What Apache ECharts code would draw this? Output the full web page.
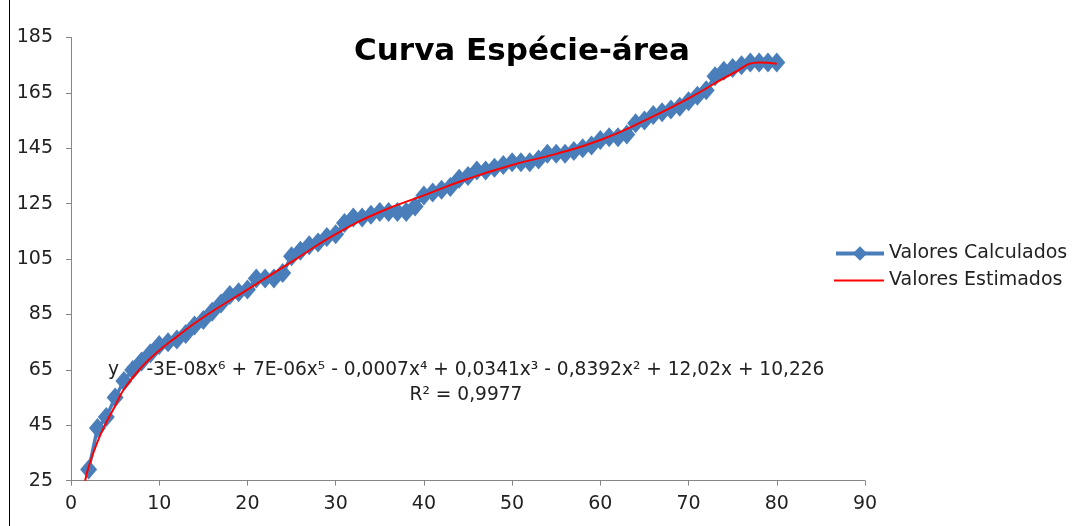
<!DOCTYPE html>
<html><head><meta charset="utf-8">
<script src="https://cdn.jsdelivr.net/npm/echarts@6/dist/echarts.min.js"></script>
<style>html,body{margin:0;padding:0;background:#fff}#c{width:1082px;height:526px}</style>
</head><body><div id="c"></div>
<script>
const calcX = [2,3,4,5,6,7,8,9,10,11,12,13,14,15,16,17,18,19,20,21,22,23,24,25,26,27,28,29,30,31,32,33,34,35,36,37,38,39,40,41,42,43,44,45,46,47,48,49,50,51,52,53,54,55,56,57,58,59,60,61,62,63,64,65,66,67,68,69,70,71,72,73,74,75,76,77,78,79,80];
const calcY = [29,44,48,55,61,65,68,71,74,75,76,78,81,83,86,89,92,93,94,98,98,98,100,106,108,110,111,113,114,118,120,120,121,122,122,122,122,124,128,129,130,131,134,135,137,137,138,139,140,140,140,141,143,143,143,144,145,146,148,149,149,150,154,155,157,158,159,160,162,164,166,171,173,174,175,176,176,176,176];
const estX = [1.6,2,3,4,5,6,8,10,12,15,20,25,30,35,40,45,50,55,60,65,70,75,78,80];
const estY = [25,30,39,46,52,58,66,72,77,84,94,104,114,122,128,134,139,143,148,155,163,172,176,175.5];
const xTicks = {min:0,max:90,interval:10};
const yTicks = {min:25,max:185,interval:20};
const titleText = 'Curva Espécie-área';
const eqText = 'y = -3E-08x⁶ + 7E-06x⁵ - 0,0007x⁴ + 0,0341x³ - 0,8392x² + 12,02x + 10,226';
const r2Text = 'R² = 0,9977';

const FONT = 'DejaVu Sans';
const chart = echarts.init(document.getElementById('c'));
const axisLine = {lineStyle:{color:'#868686',width:1}};
const legText = {fontFamily:FONT,fontSize:19,color:'#222'};
chart.setOption({
  animation:false,
  title:{text:titleText,left:517,top:31,textAlign:'center',textStyle:{fontFamily:FONT,fontWeight:'bold',fontSize:31,color:'#000'}},
  grid:{left:71,right:217,top:37.5,bottom:45.3},
  legend:[
    {left:829,top:239,itemWidth:48,itemHeight:18,itemGap:4,textStyle:legText,
      lineStyle:{width:4},data:['Valores Calculados']},
    {left:829,top:266,itemWidth:50,itemHeight:2,itemGap:4,icon:'rect',textStyle:legText,
      data:['Valores Estimados']}
  ],
  xAxis:{type:'value',min:xTicks.min,max:xTicks.max,interval:xTicks.interval,
    axisLine:axisLine,axisTick:{show:true,length:5,lineStyle:{color:'#868686'}},
    splitLine:{show:false},axisLabel:{fontFamily:FONT,fontSize:19,color:'#222',margin:14}},
  yAxis:{type:'value',min:yTicks.min,max:yTicks.max,interval:yTicks.interval,
    axisLine:Object.assign({show:true},axisLine),axisTick:{show:true,length:5,lineStyle:{color:'#868686'}},
    splitLine:{show:false},axisLabel:{fontFamily:FONT,fontSize:19,color:'#222',margin:18}},
  series:[
    {name:'Valores Calculados',type:'line',data:calcX.map((x,i)=>[x,calcY[i]]),
      symbol:'diamond',symbolSize:[17,20],itemStyle:{color:'#4A7EBB'},lineStyle:{color:'#4A7EBB',width:3.5},z:2},
    {name:'Valores Estimados',type:'line',data:estX.map((x,i)=>[x,estY[i]]),smooth:0.5,
      symbol:'none',itemStyle:{color:'#FF0000'},lineStyle:{color:'#FF0000',width:2},z:3}
  ],
  graphic:[
    {type:'text',left:108,top:361,style:{text:eqText,fontFamily:FONT,fontSize:18.6,fill:'#222'}},
    {type:'text',x:466,y:386,style:{text:r2Text,fontFamily:FONT,fontSize:18.6,fill:'#222',textAlign:'center'}},
    {type:'line',shape:{x1:9.5,y1:0,x2:9.5,y2:526},style:{stroke:'#000',lineWidth:1}}
  ]
});
</script></body></html>
